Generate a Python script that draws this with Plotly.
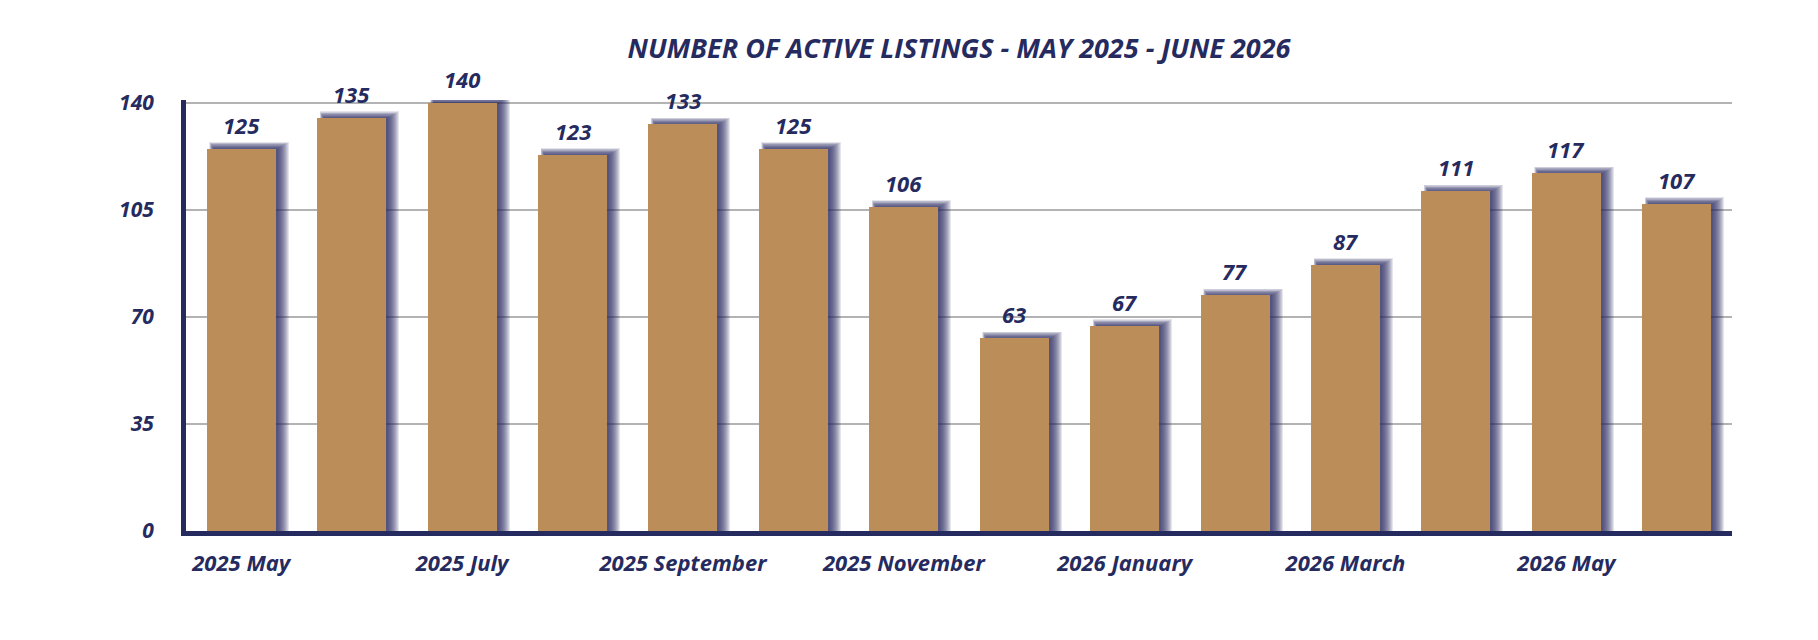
import plotly.graph_objects as go

# ---- data ----
months = ["2025 May", "2025 June", "2025 July", "2025 August", "2025 September",
          "2025 October", "2025 November", "2025 December", "2026 January",
          "2026 February", "2026 March", "2026 April", "2026 May", "2026 June"]
listings = [125, 135, 140, 123, 133, 125, 106, 63, 67, 77, 87, 111, 117, 107]
tick_labels = months[::2]
y_ticks = [0, 35, 70, 105, 140]
title_text = "NUMBER OF ACTIVE LISTINGS - MAY 2025 - JUNE 2026"

# ---- style ----
NAVY = "#262B5F"
GOLD = "#BB8E59"
GRID = "#B3B3B3"
FONT = "Open Sans"

W, H = 1818, 640
ML, MR, MT, MB = 186, 86, 100, 109
Y_MAX = 140.9
plot_w = W - ML - MR
plot_h = H - MT - MB
px_cat = plot_w / len(months)
px_unit = plot_h / Y_MAX
BAR_W = 0.625
bar_px = BAR_W * px_cat

fig = go.Figure()

# soft shadow made of layered translucent bars (to the right and slightly above)
for k in range(12):
    left = -bar_px / 2 + 7 - 0.4 * k
    right = bar_px / 2 + 2 + 1.0 * k
    top_extra = 0.0 + 0.6 * k
    fig.add_trace(go.Bar(
        x=months,
        y=[v + top_extra / px_unit for v in listings],
        width=(right - left) / px_cat,
        offset=left / px_cat,
        marker=dict(color="rgba(38,44,95,0.12)", line=dict(width=0)),
        hoverinfo="skip",
        showlegend=False,
    ))

fig.add_trace(go.Bar(
    x=months,
    y=listings,
    width=BAR_W,
    offset=-BAR_W / 2,
    marker=dict(color=GOLD, line=dict(width=0)),
    showlegend=False,
))

for m, v in zip(months, listings):
    fig.add_annotation(
        x=m, y=v, text=str(v), showarrow=False,
        xanchor="center", yanchor="bottom", yshift=7,
        font=dict(family=FONT, size=22, color=NAVY, weight="bold", style="italic"),
    )

fig.update_layout(
    width=W, height=H,
    margin=dict(l=ML, r=MR, t=MT, b=MB, pad=0),
    paper_bgcolor="white",
    plot_bgcolor="white",
    barmode="overlay",
    bargap=0,
    showlegend=False,
    title=dict(
        text=title_text,
        x=(ML + plot_w / 2) / W, xref="container",
        xanchor="center",
        y=1 - 49 / H, yref="container", yanchor="middle",
        font=dict(family=FONT, size=27, color=NAVY, weight="bold", style="italic"),
    ),
    xaxis=dict(
        type="category",
        categoryorder="array", categoryarray=months,
        range=[-0.5, len(months) - 0.5],
        tickmode="array", tickvals=tick_labels, ticktext=tick_labels,
        showgrid=False,
        showline=True, linecolor=NAVY, linewidth=5,
        ticks="", ticklabelstandoff=9,
        tickfont=dict(family=FONT, size=22, color=NAVY, weight="bold", style="italic"),
        fixedrange=True,
    ),
    yaxis=dict(
        range=[0, Y_MAX],
        tickmode="array", tickvals=y_ticks,
        showgrid=True, gridcolor=GRID, gridwidth=2,
        zeroline=False,
        showline=True, linecolor=NAVY, linewidth=5,
        ticks="", ticklabelstandoff=23,
        tickfont=dict(family=FONT, size=21, color=NAVY, weight="bold", style="italic"),
        fixedrange=True,
    ),
)

fig.write_html("out.html")
